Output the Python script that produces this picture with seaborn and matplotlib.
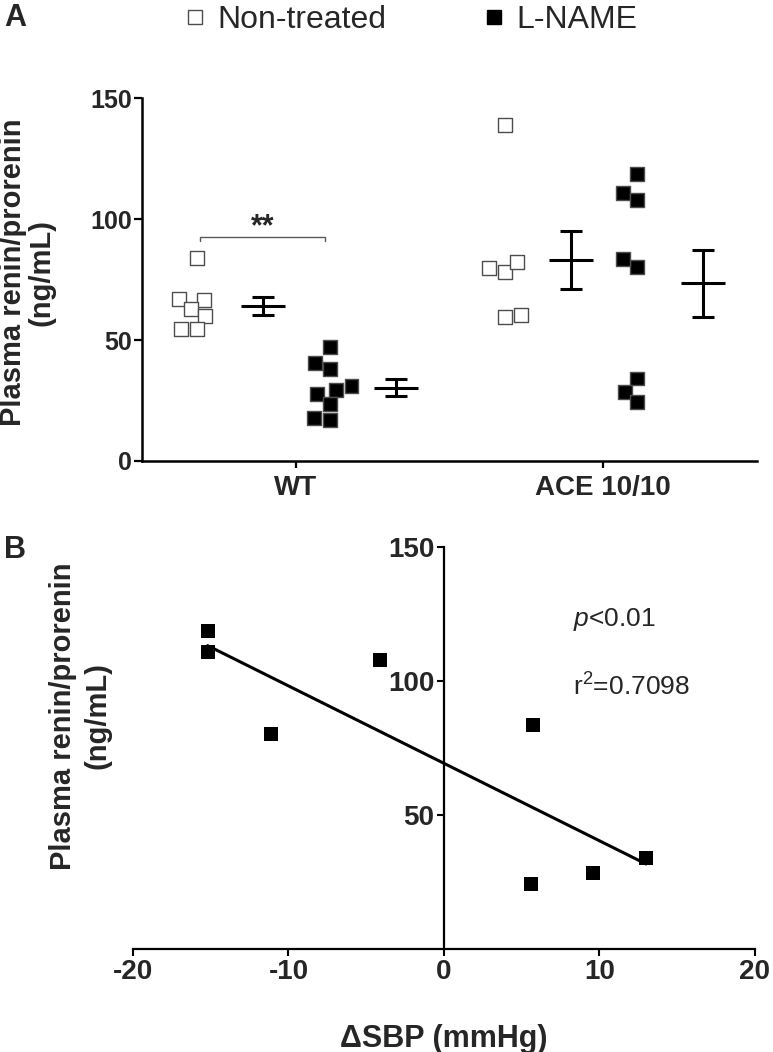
import numpy as np
import pandas as pd
import matplotlib
matplotlib.use("Agg")
import matplotlib.pyplot as plt
import seaborn as sns
from matplotlib.lines import Line2D

# ---------------- data ----------------
groups = ["WT", "ACE 10/10"]
treatments = ["Non-treated", "L-NAME"]

wt_nontreated = [83.9, 66.8, 66.5, 62.7, 59.9, 54.4, 54.7]
wt_lname = [47.2, 40.6, 38.1, 31.0, 29.5, 27.8, 23.7, 16.8, 17.7]
ace_nontreated = [138.9, 79.6, 78.0, 82.1, 59.5, 60.2]
ace_lname = [118.5, 110.8, 108.0, 80.3, 83.5, 34.1, 28.5, 24.4]

# panel B: change in SBP for the ACE 10/10 L-NAME mice (same order as ace_lname)
dsbp = [-15.2, -15.2, -4.1, -11.1, 5.7, 13.0, 9.6, 5.6]

yticks_a = [0, 50, 100, 150]
xticks_b = [-20, -10, 0, 10, 20]
yticks_b = [50, 100, 150]

# ---------------- style ----------------
sns.set_style("ticks")
plt.rcParams["font.family"] = ["Liberation Sans", "DejaVu Sans"]
plt.rcParams["mathtext.fontset"] = "custom"
plt.rcParams["mathtext.rm"] = "Liberation Sans"
plt.rcParams["mathtext.it"] = "Liberation Sans:italic"
plt.rcParams["axes.unicode_minus"] = False

point_offset = {"Non-treated": -0.32, "L-NAME": 0.11}
bar_offset = {"Non-treated": -0.105, "L-NAME": 0.325}
palette = {"Non-treated": "white", "L-NAME": "black"}

values = {("WT", "Non-treated"): wt_nontreated, ("WT", "L-NAME"): wt_lname,
          ("ACE 10/10", "Non-treated"): ace_nontreated, ("ACE 10/10", "L-NAME"): ace_lname}

rows = []
for (g, t), vals in values.items():
    for v in vals:
        rows.append({"group": g, "treatment": t, "value": v,
                     "pos": groups.index(g) + point_offset[t]})
df = pd.DataFrame(rows)

fig = plt.figure(figsize=(7.73, 10.52), dpi=100)
axA = fig.add_axes([0.1837, 0.5618, 0.7956, 0.345])
axB = fig.add_axes([0.172, 0.0979, 0.8047, 0.3821])

# ---------------- panel A ----------------
sns.swarmplot(data=df, x="pos", y="value", hue="treatment", hue_order=treatments,
              palette=palette, marker="s", size=10, edgecolor="0.3", linewidth=1.0,
              native_scale=True, orient="x", legend=False, ax=axA, zorder=3)

for (g, t), vals in values.items():
    arr = np.asarray(vals)
    m = arr.mean()
    se = arr.std(ddof=1) / np.sqrt(len(arr))
    axA.errorbar(groups.index(g) + bar_offset[t], m, yerr=se, fmt="_", color="black",
                 markersize=31, mew=2.2, elinewidth=2.2, capsize=8, capthick=2.2, zorder=4)

# significance bracket between WT groups
x1 = groups.index("WT") + point_offset["Non-treated"] + 0.01
x2 = groups.index("WT") + point_offset["L-NAME"] - 0.015
yb = 92.5
axA.plot([x1, x1, x2, x2], [yb - 1.7, yb, yb, yb - 1.7], color="0.35", lw=1.0)
axA.text((x1 + x2) / 2, 96.5, "**", ha="center", va="center", fontsize=22, fontweight="bold")

axA.set_xlim(-0.5, 1.5)
axA.set_ylim(0, 150)
axA.set_yticks(yticks_a)
axA.set_xticks(range(len(groups)))
axA.set_xticklabels(groups)
axA.set_xlabel("")
axA.set_ylabel("Plasma renin/prorenin\n(ng/mL)", fontsize=21, fontweight="bold", linespacing=1.0)
axA.yaxis.set_label_coords(-0.141, 0.52)
for s in ["top", "right"]:
    axA.spines[s].set_visible(False)
for s in ["left", "bottom"]:
    axA.spines[s].set_linewidth(1.8)
    axA.spines[s].set_color("black")
axA.tick_params(axis="y", length=6, width=1.6, pad=1, labelsize=18, color="black")
axA.tick_params(axis="x", length=5, width=1.6, pad=5, labelsize=20, color="black")
for lab in axA.get_xticklabels() + axA.get_yticklabels():
    lab.set_fontweight("bold")

# legend
handles = [Line2D([], [], marker="s", ls="", mfc="white", mec="0.3", mew=1.0, ms=10),
           Line2D([], [], marker="s", ls="", mfc="black", mec="black", mew=1.0, ms=10)]
fig.legend(handles, treatments, loc="center left", bbox_to_anchor=(181 / 773, 1 - 20 / 1052),
           ncol=2, frameon=False, fontsize=23, handlelength=0.9, handletextpad=0.25,
           columnspacing=2.9, borderpad=0, borderaxespad=0)

fig.text(4 / 773, 1 - 18 / 1052, "A", fontsize=22, fontweight="bold", va="center", ha="left")
fig.text(4 / 773, 1 - 550 / 1052, "B", fontsize=22, fontweight="bold", va="center", ha="left")

# ---------------- panel B ----------------
sns.regplot(x=dsbp, y=ace_lname, ci=None, marker="s", color="black", truncate=True,
            scatter_kws={"s": 90, "linewidths": 0, "zorder": 3, "alpha": 1},
            line_kws={"lw": 2.2, "color": "black"}, ax=axB)

axB.set_xlim(-20, 20)
axB.set_ylim(0, 150)
axB.set_xticks(xticks_b)
axB.set_yticks(yticks_b)
axB.spines["left"].set_position(("data", 0))
for s in ["top", "right"]:
    axB.spines[s].set_visible(False)
for s in ["left", "bottom"]:
    axB.spines[s].set_linewidth(1.6)
    axB.spines[s].set_color("black")
axB.tick_params(axis="both", length=5, width=1.5, pad=2, labelsize=20, color="black")
for lab in axB.get_xticklabels() + axB.get_yticklabels():
    lab.set_fontweight("bold")
axB.set_xlabel("\u0394SBP (mmHg)", fontsize=22, fontweight="bold", labelpad=28)
axB.set_ylabel("Plasma renin/prorenin\n(ng/mL)", fontsize=21, fontweight="bold", linespacing=1.3)
axB.yaxis.set_label_coords(-0.035, 0.58)

axB.text(8.3, 122.8, r"$p$<0.01", fontsize=19, va="center", ha="left")
axB.text(8.3, 97.8, r"r$^2$=0.7098", fontsize=19, va="center", ha="left")

fig.savefig("out.png", dpi=100, facecolor="white")
